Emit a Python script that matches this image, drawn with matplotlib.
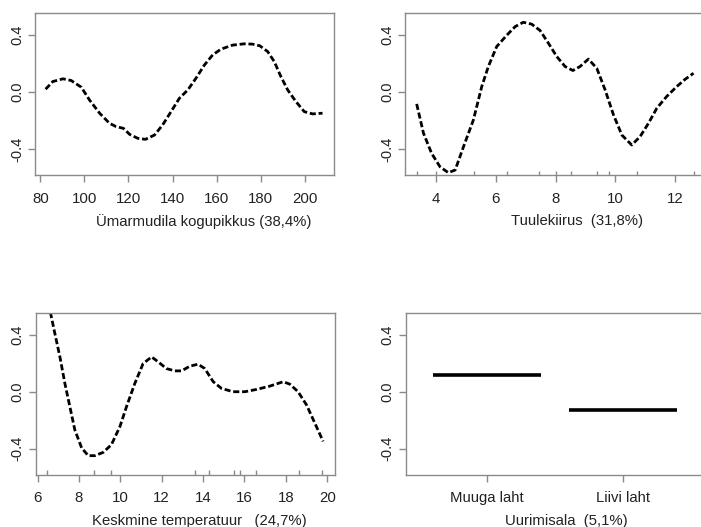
import matplotlib
matplotlib.use("Agg")
import matplotlib.pyplot as plt

plt.rcParams["font.family"] = ["Liberation Sans", "DejaVu Sans"]

# Ümarmudila kogupikkus
length_x = [82.4, 85.7, 90.3, 94.0, 98.6, 102.3, 106.9, 111.4, 114.4, 117.7,
            120.5, 124.2, 127.7, 131.8, 135.5, 139.3, 143.1, 146.9, 150.6, 154.4,
            158.2, 162.0, 167.2, 172.5, 176.3, 179.6, 183.1, 186.1, 189.1, 192.2,
            195.9, 199.7, 203.5, 208.0]
length_y = [0.021, 0.075, 0.094, 0.082, 0.035, -0.054, -0.147, -0.218, -0.241, -0.253,
            -0.295, -0.323, -0.330, -0.300, -0.229, -0.136, -0.042, 0.016, 0.098, 0.190,
            0.262, 0.302, 0.330, 0.339, 0.337, 0.325, 0.285, 0.215, 0.110, 0.016,
            -0.065, -0.136, -0.152, -0.147]

# Tuulekiirus
wind_x = [3.35, 3.58, 3.85, 4.13, 4.41, 4.64, 4.92, 5.25, 5.53, 5.75,
          6.03, 6.37, 6.65, 6.92, 7.20, 7.48, 7.76, 8.04, 8.32, 8.58,
          8.82, 9.10, 9.38, 9.66, 9.94, 10.22, 10.55, 10.83, 11.11, 11.39,
          11.72, 12.06, 12.34, 12.62]
wind_y = [-0.082, -0.288, -0.428, -0.522, -0.564, -0.545, -0.381, -0.194, 0.040, 0.180,
          0.320, 0.400, 0.460, 0.490, 0.477, 0.433, 0.344, 0.250, 0.180, 0.152,
          0.180, 0.232, 0.168, 0.016, -0.159, -0.300, -0.370, -0.311, -0.218, -0.112,
          -0.030, 0.040, 0.091, 0.133]
wind_rug = [3.35, 3.99, 5.27, 6.39, 7.43, 8.00, 8.51, 9.40, 9.80, 10.74, 12.64]

# Keskmine temperatuur
temp_x = [6.45, 6.63, 6.84, 7.08, 7.32, 7.56, 7.80, 8.13, 8.45, 8.77,
          9.17, 9.57, 9.98, 10.30, 10.70, 11.10, 11.51, 11.83, 12.23, 12.63,
          12.96, 13.36, 13.76, 14.08, 14.49, 14.89, 15.45, 16.02, 16.58, 17.22,
          17.87, 18.19, 18.59, 19.00, 19.40, 19.80]
temp_y = [0.680, 0.549, 0.405, 0.244, 0.058, -0.104, -0.267, -0.394, -0.448, -0.448,
          -0.425, -0.371, -0.244, -0.104, 0.058, 0.197, 0.244, 0.209, 0.162, 0.146,
          0.146, 0.179, 0.193, 0.162, 0.070, 0.023, 0.000, 0.000, 0.016, 0.039,
          0.070, 0.053, 0.000, -0.093, -0.220, -0.348]
temp_rug = [6.44, 8.72, 9.54, 13.60, 14.28, 15.50, 15.79, 16.58, 18.64, 19.77]

# Uurimisala
area_names = ["Muuga laht", "Liivi laht"]
area_y = [0.116, -0.125]

W, H = 701, 527
fig = plt.figure(figsize=(W / 100, H / 100), dpi=100)

box_col = "#8a8a8a"
txt_col = "#222222"
ylim = (-0.58, 0.555)


def px_axes(left, top):
    return fig.add_axes([left / W, (H - top - 162) / H, 299 / W, 162 / H])


def style(ax, xlim, xticks, xlabel, lab_x, lab_y):
    ax.set_xlim(*xlim)
    ax.set_ylim(*ylim)
    ax.set_yticks([-0.4, 0.0, 0.4])
    ax.set_yticklabels(["-0.4", "0.0", "0.4"], rotation=90, va="center")
    ax.set_xticks(xticks)
    for s in ax.spines.values():
        s.set_color(box_col)
        s.set_linewidth(1.0)
    ax.tick_params(axis="both", color=box_col, width=1.0, length=5, labelcolor=txt_col)
    ax.tick_params(axis="x", labelsize=10.8, pad=7)
    ax.tick_params(axis="y", labelsize=10.5, pad=3)
    ax.set_xlabel(xlabel, fontsize=10.7, color=txt_col, va="center")
    ax.xaxis.set_label_coords(lab_x, lab_y)


def rug(ax, vals):
    ax.vlines(vals, 0, 0.025, transform=ax.get_xaxis_transform(),
              color=box_col, lw=1.0)


dash = (0, (2.2, 1.0))

ax1 = px_axes(35, 13)
ax1.plot(length_x, length_y, color="black", lw=2.0, linestyle=dash)
style(ax1, (77.6, 213.2), [80, 100, 120, 140, 160, 180, 200],
      "Ümarmudila kogupikkus (38,4%)", 0.5635, -0.284)

ax2 = px_axes(405, 13)
ax2.plot(wind_x, wind_y, color="black", lw=2.0, linestyle=dash)
rug(ax2, wind_rug)
style(ax2, (2.96, 12.97), [4, 6, 8, 10, 12],
      "Tuulekiirus  (31,8%)", 0.575, -0.284)

ax3 = px_axes(35.5, 312.5)
ax3.plot(temp_x, temp_y, color="black", lw=2.0, linestyle=dash)
rug(ax3, temp_rug)
style(ax3, (5.9, 20.35), [6, 8, 10, 12, 14, 16, 18, 20],
      "Keskmine temperatuur   (24,7%)", 0.549, -0.287)

ax4 = px_axes(405.5, 312.5)
pos = list(range(1, len(area_names) + 1))
ax4.hlines(area_y, [p - 0.4 for p in pos], [p + 0.4 for p in pos],
           color="black", lw=2.6)
style(ax4, (0.4, 2.6), pos, "Uurimisala  (5,1%)", 0.537, -0.287)
ax4.set_xticklabels(area_names)
ax4.tick_params(axis="x", labelsize=10.7, pad=7)

fig.savefig("out.png", dpi=100)
